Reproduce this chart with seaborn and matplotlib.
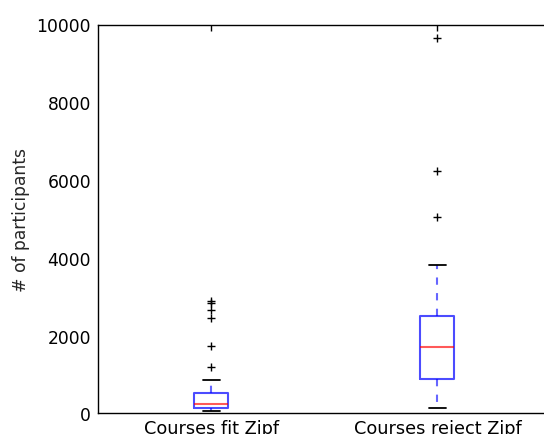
import matplotlib
matplotlib.use("Agg")
import matplotlib.pyplot as plt
import seaborn as sns
import pandas as pd

# Categories and estimated per-course participant counts (read from the box statistics)
categories = ["Courses fit Zipf", "Courses reject Zipf"]
fit_zipf = [69, 80, 92, 100, 110, 118, 124, 129, 140, 155, 170, 190, 210, 228, 240,
            270, 310, 350, 400, 450, 495, 522, 848, 1190, 1730, 2450, 2650, 2846, 2887]
reject_zipf = [129, 300, 520, 700, 882, 1050, 1300, 1500, 1705, 1900, 2100, 2300,
               2501, 3812, 5046, 6240, 9640]
y_ticks = [0, 2000, 4000, 6000, 8000, 10000]

df = pd.DataFrame({
    "group": [categories[0]] * len(fit_zipf) + [categories[1]] * len(reject_zipf),
    "participants": fit_zipf + reject_zipf,
})

sns.set_style("white")
plt.rcParams.update({
    "font.family": ["DejaVu Sans"],
    "font.size": 12.5,
    "xtick.direction": "in",
    "ytick.direction": "in",
    "xtick.top": True,
    "ytick.right": True,
    "xtick.major.size": 4,
    "ytick.major.size": 4,
    "xtick.major.pad": 4,
    "ytick.major.pad": 5,
    "axes.edgecolor": "black",
    "axes.linewidth": 1.0,
})

fig = plt.figure(figsize=(5.44, 4.35), dpi=100)
ax = fig.add_axes([98 / 544, (435 - 414.3) / 435, 452.5 / 544, 388.8 / 435])

sns.boxplot(
    data=df, x="group", y="participants", order=categories, ax=ax,
    width=0.15, fill=False, color="blue", linewidth=1.5, whis=1.5,
    boxprops=dict(color="blue", alpha=0.7, linewidth=1.5),
    whiskerprops=dict(color="blue", linestyle=(0, (3.5, 4)), alpha=0.6, linewidth=1.5),
    capprops=dict(color="black", linewidth=1.3),
    medianprops=dict(color="red", alpha=0.65, linewidth=1.5),
    flierprops=dict(marker="+", markeredgecolor="black", markerfacecolor="black",
                    markersize=6, markeredgewidth=1.0),
)

ax.set_ylim(0, 10000)
ax.set_xlim(-0.5, 1.5)
ax.set_yticks(y_ticks)
ax.set_xlabel("")
ax.set_ylabel("# of participants", fontsize=12.3, labelpad=5)
ax.tick_params(axis="y", labelsize=12.3, colors="black", width=1.0)
ax.tick_params(axis="x", labelsize=12.8, colors="black", width=1.0)
for s in ax.spines.values():
    s.set_visible(True)
    s.set_color("black")

fig.savefig("out.png", dpi=100)
